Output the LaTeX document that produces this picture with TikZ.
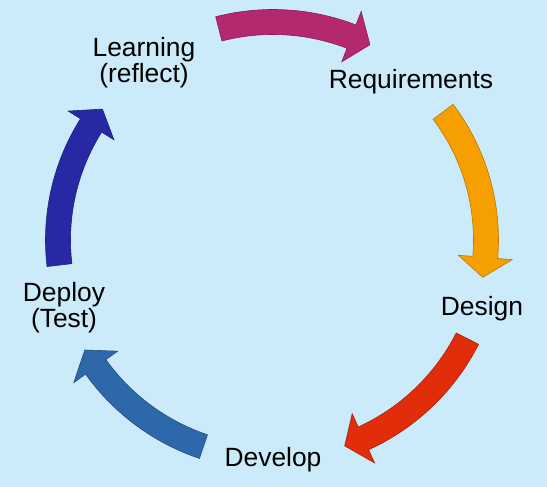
\documentclass[tikz,border=0pt]{standalone}
\usepackage{fontspec}
\setmainfont{Liberation Sans}
\definecolor{skyback}{RGB}{204,235,250}
\definecolor{plum}{RGB}{180,40,110}
\definecolor{amber}{RGB}{245,160,0}
\definecolor{scarlet}{RGB}{225,45,10}
\definecolor{steel}{RGB}{45,105,170}
\definecolor{navy}{RGB}{40,40,165}
\tikzset{
    stage/.style={anchor=base, align=center, font=\fontsize{26.4pt}{26pt}\selectfont},
    cyclearrow/.style={draw=#1!75!black, line width=0.6pt, fill=#1},
}
\begin{document}
\begin{tikzpicture}[x=1pt,y=1pt]
    \fill[skyback] (0,0) rectangle (547,487);
    \begin{scope}[shift={(273,247)}]
    % requirements
    \filldraw[cyclearrow=plum] (104.4:230.5pt) arc[start angle=104.4, end angle=68.9, radius=230.5pt] -- (68.9:245pt) -- (63.6:218pt) -- (68.9:191pt) -- (68.9:205.5pt) arc[start angle=68.9, end angle=104.4, radius=205.5pt] -- cycle;
    % design
    \filldraw[cyclearrow=amber] (37:225.5pt) arc[start angle=37, end angle=-4.7, radius=225.5pt] -- (-4.7:240pt) -- (-10.1:213pt) -- (-4.7:186pt) -- (-4.7:200.5pt) arc[start angle=-4.7, end angle=37, radius=200.5pt] -- cycle;
    % develop
    \filldraw[cyclearrow=scarlet] (-26.9:230.5pt) arc[start angle=-26.9, end angle=-65.5, radius=230.5pt] -- (-65.5:245pt) -- (-70.8:218pt) -- (-65.5:191pt) -- (-65.5:205.5pt) arc[start angle=-65.5, end angle=-26.9, radius=205.5pt] -- cycle;
    % deploy
    \filldraw[cyclearrow=steel] (251.4:230.5pt) arc[start angle=251.4, end angle=215.6, radius=230.5pt] -- (215.6:245pt) -- (210.3:218pt) -- (215.6:191pt) -- (215.6:205.5pt) arc[start angle=215.6, end angle=251.4, radius=205.5pt] -- cycle;
    % learning
    \filldraw[cyclearrow=navy] (186.7:227.5pt) arc[start angle=186.7, end angle=147.8, radius=227.5pt] -- (147.8:242pt) -- (142.5:215pt) -- (147.8:188pt) -- (147.8:202.5pt) arc[start angle=147.8, end angle=186.7, radius=202.5pt] -- cycle;
    \end{scope}
    \node[stage] (learning) at (144,404) {Learning\\(reflect)};
    \node[stage] (requirements) at (411,398) {Requirements};
    \node[stage] (design) at (482,171) {Design};
    \node[stage] (develop) at (273,20) {Develop};
    \node[stage] (deploy) at (64,159) {Deploy\\(Test)};
\end{tikzpicture}
\end{document}
